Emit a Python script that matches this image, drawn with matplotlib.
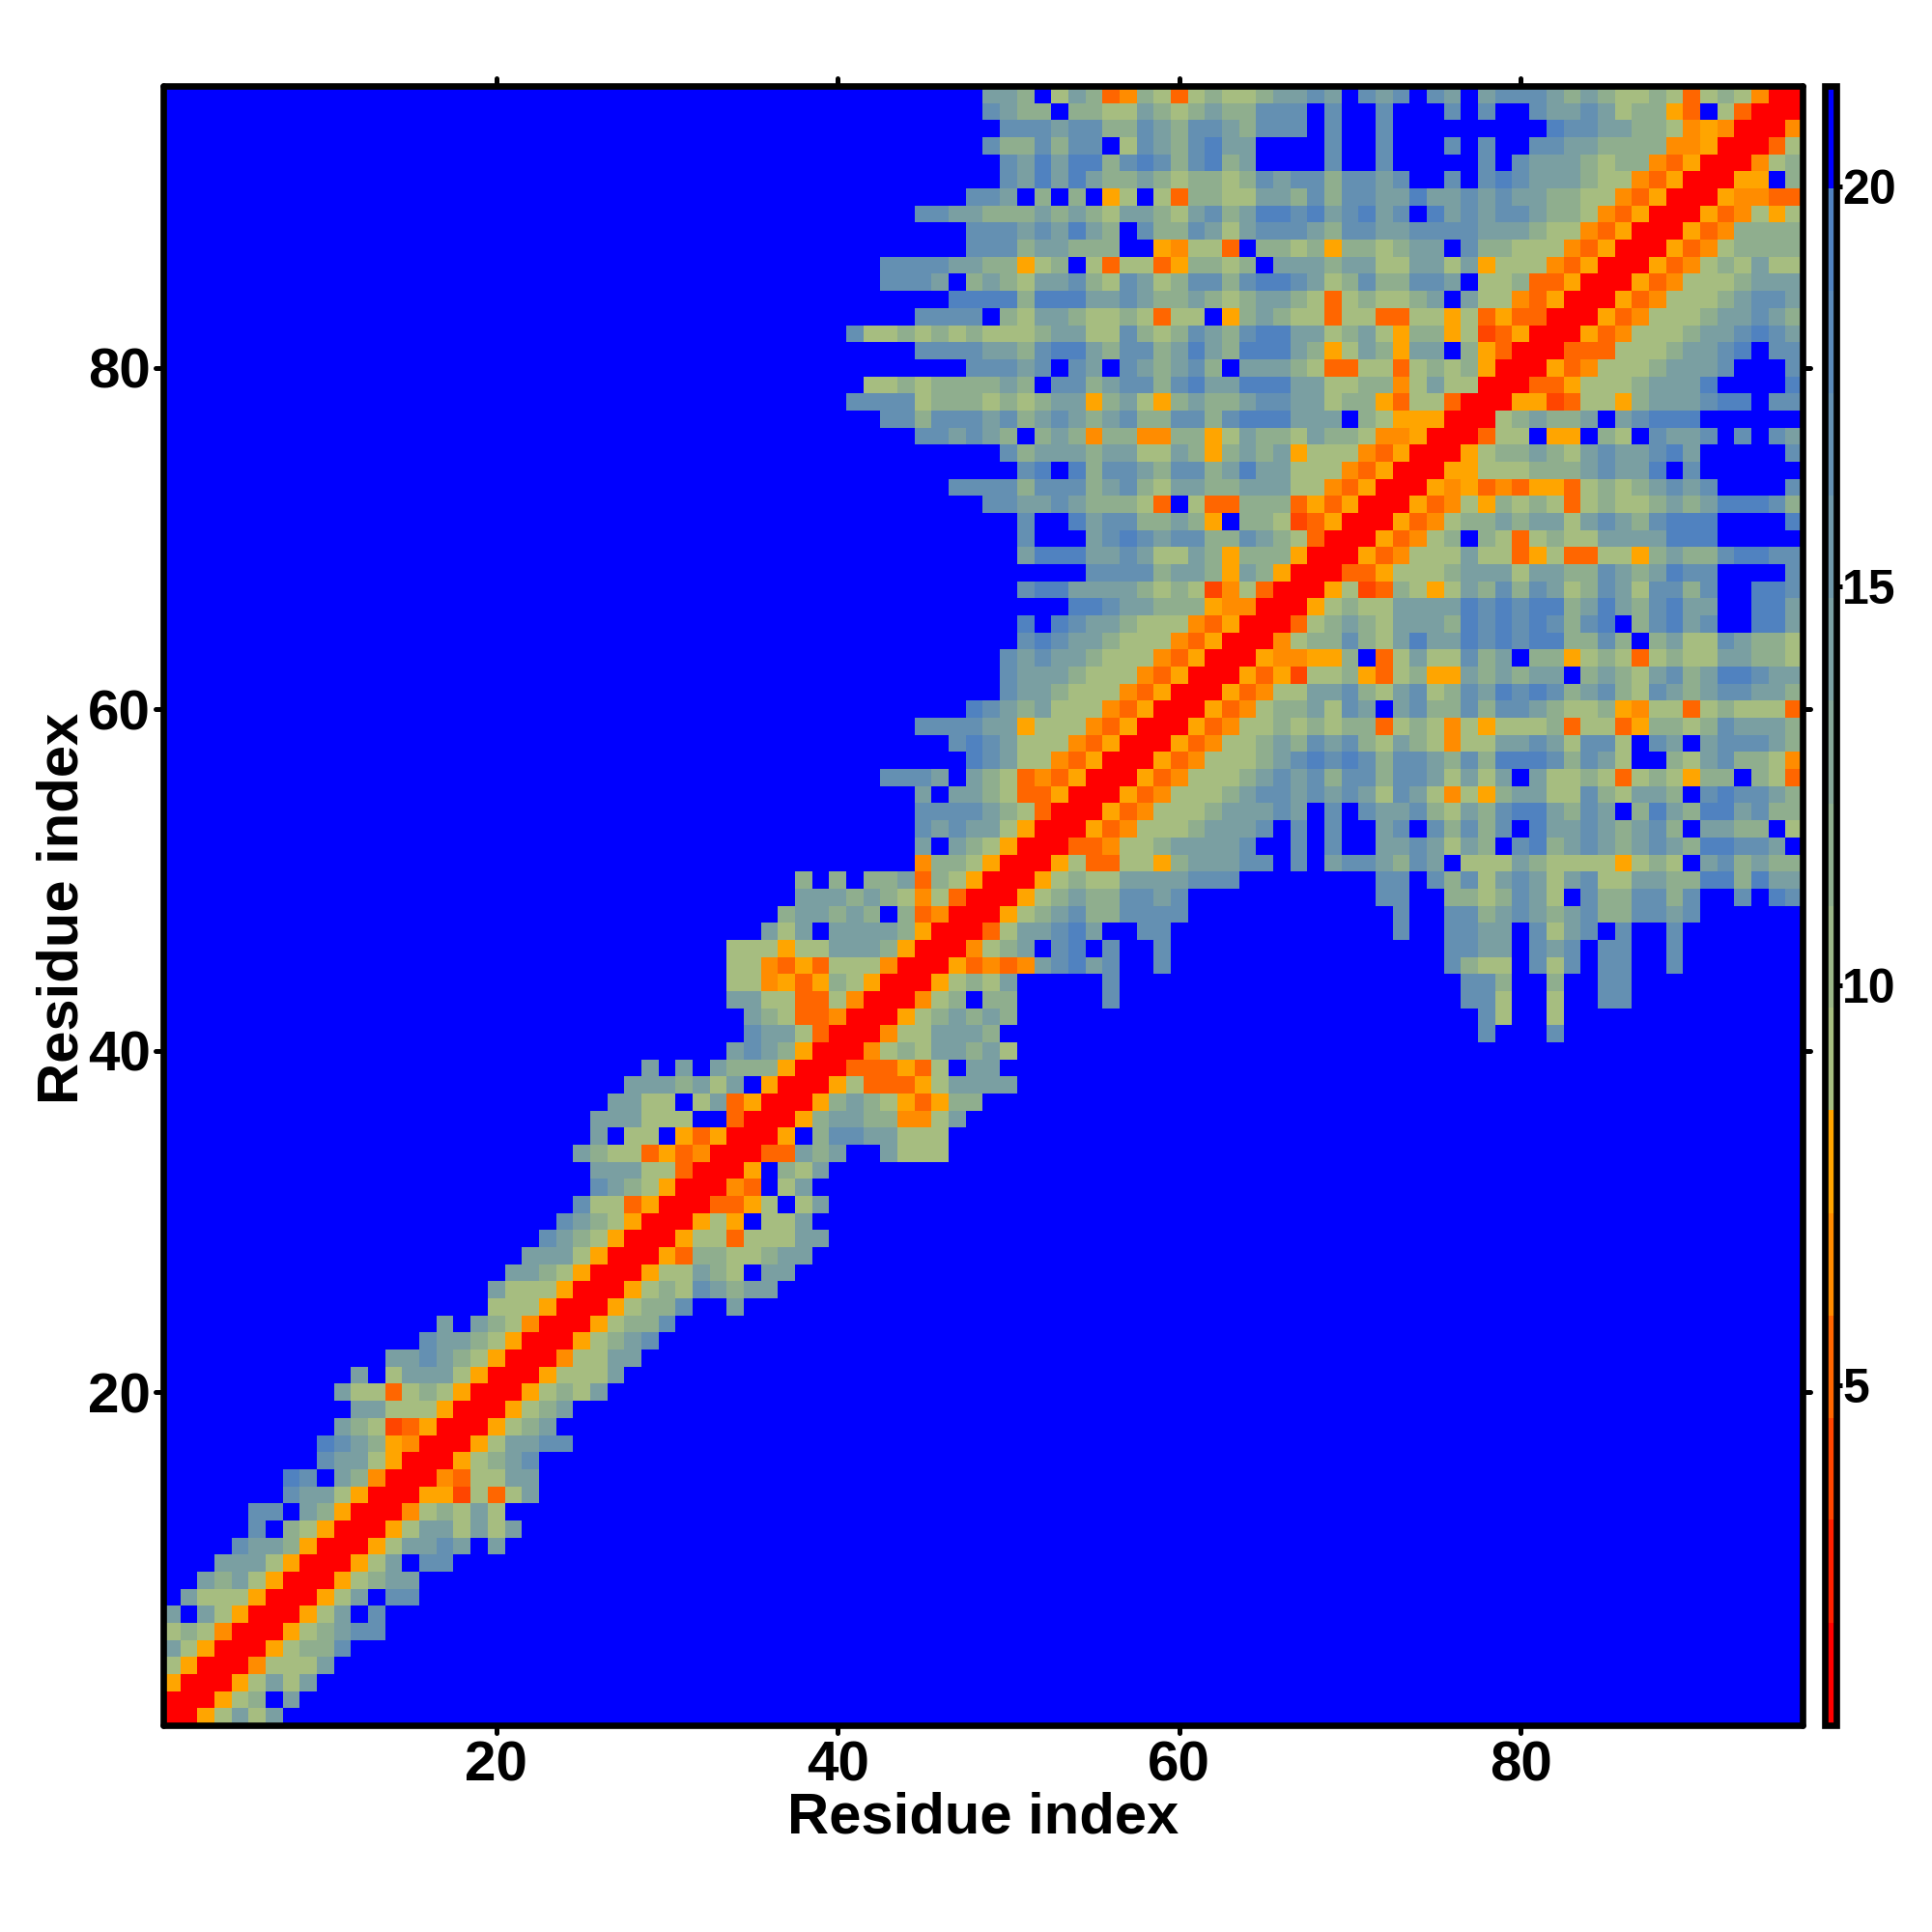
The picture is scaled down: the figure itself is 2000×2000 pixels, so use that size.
"""Residue contact map with a stepped distance colour bar, saved to out.png."""

import matplotlib.pyplot as plt
import numpy as np
from matplotlib.colors import BoundaryNorm, ListedColormap
from matplotlib.markers import MarkerStyle, TICKDOWN, TICKLEFT, TICKRIGHT, TICKUP

plt.rcParams["font.family"] = ["Liberation Sans", "DejaVu Sans"]
plt.rcParams["font.weight"] = "bold"

N_RESIDUES = 96
TICKS = [20, 40, 60, 80]
CBAR_TICKS = [5, 10, 15, 20]
LABEL = "Residue index"

# colour steps of the bar, bottom to top
LEVEL_EDGES = [0.74, 2.02, 3.31, 4.59, 5.87, 7.15, 8.44, 9.72, 11.0, 12.28,
               13.57, 14.85, 16.13, 17.41, 18.7, 19.98, 21.26]
LEVEL_COLORS = ["#FF0000", "#FF2000", "#FF4500", "#FF6600", "#FF8C00", "#FFA500",
                "#A6BD80", "#9BB687", "#8FAE8E", "#85A698", "#7A9FA2", "#6F98AA",
                "#6490B2", "#5A89B9", "#5082C0", "#0000FF"]

CELL_VALUES = {"R": 1.4, "D": 3.9, "O": 5.2, "o": 6.5, "y": 7.8, "a": 9.1,
               "b": 11.6, "c": 14.2, "e": 16.8, "f": 19.3, ".": 20.6}

# first filled column of each row, row 1 first
ROW_START = [1, 1, 1, 1, 1, 1, 1, 2, 3, 4, 5, 6, 6, 8, 8, 10, 10, 11, 12, 11, 12, 14,
             16, 17, 20, 20, 21, 22, 23, 24, 25, 26, 26, 25, 26, 26, 27, 28, 29, 34,
             35, 35, 34, 34, 34, 34, 36, 37, 38, 38, 45, 45, 45, 45, 45, 43, 48, 47,
             45, 48, 50, 50, 50, 51, 51, 54, 51, 55, 51, 51, 51, 49, 47, 51, 50, 45,
             43, 41, 42, 48, 45, 41, 45, 47, 43, 43, 48, 48, 45, 48, 50, 50, 49, 50,
             49, 49]

# cell letters from that column on, the rest of the row is "."
ROW_CELLS = [
    "RRyacac",
    "RRRyab.c",
    "yRRRyacac",
    "ayRRRoaaac",
    "cayRRRyabbe",
    "abaoRRRyabcee",
    "c.cayRRRyac.e",
    "caaayRRRyac.ee",
    "cbcayRRRyabcc",
    "cccayRRRyac.ee",
    "eccbyRRRyaccec.c",
    "e.bayRRRyaccacac",
    "ee.cbyRRRoabaca",
    "eccayRRRyyDaOac",
    "fe.cboRRRoOaacc",
    "eccayRRRyabce",
    "fecbyoRRRyaccee",
    "cbaDOyRRRyabc",
    "ccaaayRRRyabc",
    "caaOabayRRRyabac",
    "c.acccayRRRyaaac",
    "ccecbayRRRoaacc",
    "eccbayRRRyabce",
    "c.cbaoRRRyabbe",
    "aaayRRRyabbe..c",
    "caaayRRRyabaecbcc",
    "ccbayRRRyaacba.cc",
    "cccayRRRyObbaabcc",
    "ecbayRRRyaaOaaacc",
    "ecbayRRRyay.aac",
    "eaaOyRRROOya.ac",
    "ecbayRRRoO.ac",
    "cccaaORRRy.bac",
    "cbaaOyOoRRROOcbc..caaa",
    "c.aa.yOyRRRy.beeccaaa",
    "cccaaa..ORRRybccbbooac",
    "ccaa.acOyRRRybcbayOybb",
    "cccbcac.yRRRyaOOOyacccc",
    "c.c.cbbbyRRROOOyOa.cc",
    "cecbyRRRoabaccbca",
    "eccaORRRoaacccb" + "." * 28 + "e...e",
    "cbaOOoRRRyabcbcb" + "." * 27 + "ea..a",
    "ccaaOOaoRRRoab.bb" + "....." + "e" + "." * 20 + "eea..a..ee",
    "aaoyOybayRRRyabac" + "....." + "e" + "." * 20 + "eeb..b..ee",
    "aaoOyOaaaoRRRyOoOocefce..e" + "." * 16 + "ebaa.eae.ee..e",
    "aaayaacccbyRRRoabc.ef.e..e" + "." * 16 + "eecc.ece.ee..e",
    "cac.ccccbyRRROaccefc..ee" + "." * 13 + "e..eecc.eace.e..e",
    "bccbcb.bOoRRRyabcebbeeee" + "." * 12 + "e..eebcecbcebbeece",
    "cccbcbaoaORRRyabcbbeece" + "." * 11 + "ee..bbabeca.ebbeebe..e.fe",
    "b.b.bbcObayRRRyabaacccceee" + "." * 8 + "ee.ebeacecaceaaccbbffbfcc",
    "obbayRRRyaOOaaybcccee.e.ceecbec.aaacbaaaayaba.cebcbb",
    "c.cbayRRROOoaabcccce..e.e..ccecacb.efbcecbcecbffeec.",
    "ececcayRRRyOoaaabccce.e.e..ce.ebebe.fccecbceb.ccbb.a",
    "eeeecbaORRRyOoaaabcccec.e.eccebacbeffcbec.bfcbffcebb",
    "c.ccbaOOyRRRyOoaaabceecececaecaoaybccaaebaccb.efeecb",
    "eeec.cbaOoOyRRRyOoaaabcecebeebeecacac.caabaOabaybb.baO",
    "fecaaoOyRRRyOoaaabcefefebeecbebfffebeca..bacebbao",
    "efecaaaoOyRRRyOoaabcbecebacbaoaaccecaeea.ec.ceeecb",
    "eeeeccyaaaoOyRRRyOoaabababbOabaoayaaabOaaOybbabecccb",
    "fecbcaaaoOyRRRyOoabbcaec.cebbebeecbaabyoaaOabaaaO",
    "eccbaaaoOyRRRyOoaaccebaceabecfefebcebaecbceeccb",
    "ecccbaaaoOyRRRyOyDaabyOabyycbcbcc.bcbacebcffecc",
    "ececcbaaaoOyRRRyooyyb.Oacaaebc.bbyabaOabaaccbba",
    "efeccbaaaoOyRRRoabbebacfccfefeffbbeb.bcaaecbba",
    "f.feccbaaaoOyRRROabcbacccbfefefebef.befce..ffc",
    "ffeccbbbyooRRRyabaaccccfefeffbcfcbefcc..ffc",
    "effccccbabaDoaORRRyaDObayacbebecabecaeebe..ffe",
    "eeeebccbycbyRRROOyaaabcccaccbbecbcfee....e",
    "cfffccecaacbybbbyRRRyOoaaacaaOyaOOaaybcbbeffee",
    "e...cefeceebbecbaORRRyOoab.baOabaaccccfff.....",
    "e..fceebbcby.bbaDOyRRRyOoabbcbccacecbefff....f",
    "eeccecbbbaO.aOObbbOyOyRRRyOoaybabaOabaabcbcfffeb",
    "eeeebeeebcebaccbbcccaaoOyRRRyoyOoOyyOababcece....e",
    "ef.fbeecbeebcfccaaaoOyRRRyyaaabbbceccf.e......",
    "ebcccbccaacbybcbcyaaaoOyRRRyabbcbaceccefc.....e",
    "eececb.bcbobboobbyacbbacbbaooyRRROaa.yy.ba.ecce.e.ec",
    "eebeeecebcecbcebbeebefffccc.bayyyRRRabcbbc.cefff......",
    "eeeeabbbababccybcaybcbbceeccabbyOaaORRRyyDOaaybccceff.ee",
    "aababbbbcb.eebceebefccfffccaabboacaaRRROOyaaabcccf....f",
    "eeece.ec.ecbceb.cccbaOOaaOababyRRRyOoaaabccce...e",
    "eeeeccbeffcbeebcfcbfffcbyacbycc.byORRROOOaaabccef.ee",
    "eaabababaaabccaaebabecbeffccabcaybbyaDOyRRRyOoaaabccefec",
    "eeee.baccbaabaOaa.ybcbaaOaaOOaayaOyOORRRyOoaaabccecb",
    "ffffbfffccecbbcbabccbaOabaabc.caaoOyRRRyOoaaabceec",
    "eeec.bcbaccebaecabeebeffecabebbeec.aabOOyRRRyOoaaabccc",
    "eeeeccbbyab.aOaaOybbab.cccbccaaccacyaaaoOyRRRyOoabacaa",
    "eeebccbbb..yoaaO.bbabybbabcc.ebbaaaoOyRRRyOoabbbb",
    "eeececfcb.ebbecaceeecbeecceeeecccbaaoOyRRRyOobbbb",
    "eeccbbbcbcbaccbacebcffefcefce.fceceecbbaoOyRRRyOoaya",
    "eec.b.b.ya.aObbaaccbebeeccfccececcbbaaoOyRRRyooOO",
    "ecfcfcbbcbabbabeceebeece..e.efecccbaaoOyRRRyy.b",
    "ecfcffbefebefbc....e..e.....e.ecccbabboOyRRRoab",
    "ebbebee.aecbefcc....e..e...e.e..eeccbbbbooyRRROa",
    "eeeceebbecbeecbeee.e..e.........feeccbbaoyoRRRo",
    "ecbb.bbaacbabcbbeee.e..e...e.e..eccecabbyO.aORRR",
    "ccb.acbOobaOabaabccec.ece.ec.ceeecbcbaabaOabaoRR",
]


def build_matrix():
    matrix = np.full((N_RESIDUES, N_RESIDUES), CELL_VALUES["."])
    for row, (start, cells) in enumerate(zip(ROW_START, ROW_CELLS)):
        values = [CELL_VALUES[letter] for letter in cells][: N_RESIDUES - start + 1]
        matrix[row, start - 1: start - 1 + len(values)] = values
    return matrix


def round_ticks(axis, marker):
    for tick in axis.get_major_ticks():
        tick.tick1line.set_marker(MarkerStyle(marker, capstyle="round"))


def main():
    fig = plt.figure(figsize=(20, 20), dpi=100)
    ax = fig.add_axes([169 / 2000, 1 - 1786 / 2000, 1697 / 2000, 1697 / 2000])
    cax = fig.add_axes([1889 / 2000, 1 - 1786 / 2000, 12 / 2000, 1697 / 2000])

    cmap = ListedColormap(LEVEL_COLORS)
    norm = BoundaryNorm(LEVEL_EDGES, cmap.N)
    image = ax.imshow(build_matrix(), origin="lower", cmap=cmap, norm=norm,
                      interpolation="nearest", aspect="auto",
                      extent=(0.5, N_RESIDUES + 0.5, 0.5, N_RESIDUES + 0.5))

    ax.set_xticks(TICKS)
    ax.set_yticks(TICKS)
    ax.tick_params(axis="both", which="major", direction="out", length=6, width=3.6,
                   labelsize=42, pad=5, top=True, right=True)
    ax.tick_params(axis="y", pad=3.5)
    for spine in ax.spines.values():
        spine.set_linewidth(4.8)
        spine.set_capstyle("round")

    fig.text(1018 / 2000, 1 - 1882 / 2000, LABEL, fontsize=43, fontweight="bold",
             ha="center", va="center")
    fig.text(65 / 2000, 1 - 940 / 2000, LABEL, fontsize=43, fontweight="bold",
             ha="center", va="center", rotation=90)

    cbar = fig.colorbar(image, cax=cax, spacing="proportional", ticks=CBAR_TICKS)
    cbar.outline.set_linewidth(4.8)
    cbar.ax.tick_params(direction="out", length=4, width=3.6, labelsize=36, pad=0.5)
    cbar.ax.minorticks_off()

    for axis, marker in [(ax.xaxis, TICKDOWN), (ax.yaxis, TICKLEFT), (cbar.ax.yaxis, TICKRIGHT)]:
        round_ticks(axis, marker)
    for tick in ax.xaxis.get_major_ticks():
        tick.tick2line.set_marker(MarkerStyle(TICKUP, capstyle="round"))
    for tick in ax.yaxis.get_major_ticks():
        tick.tick2line.set_marker(MarkerStyle(TICKRIGHT, capstyle="round"))

    fig.savefig("out.png", dpi=100)
    plt.close(fig)


if __name__ == "__main__":
    main()
